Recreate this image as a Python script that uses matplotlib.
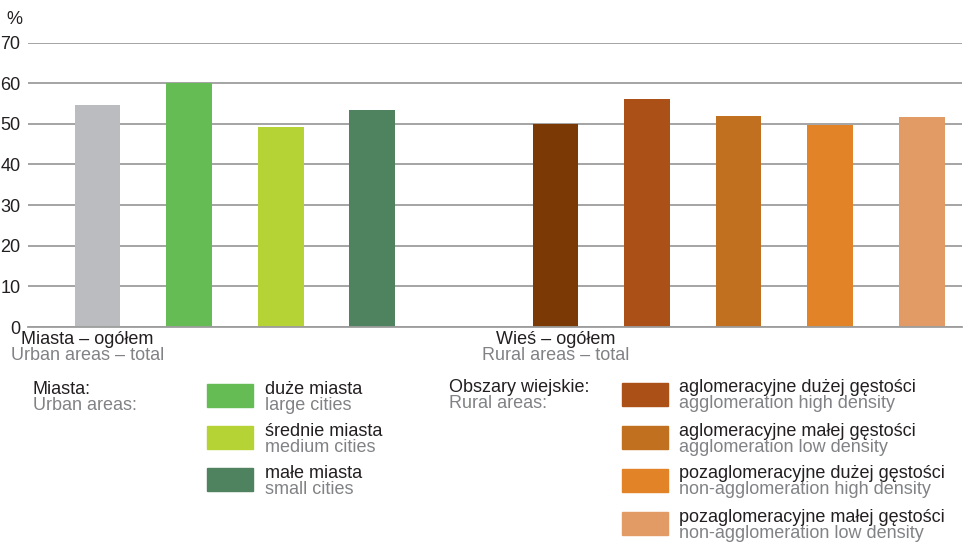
import matplotlib.pyplot as plt
from matplotlib.patches import Rectangle
from matplotlib.transforms import blended_transform_factory

plt.rcParams['font.family'] = ['Liberation Sans', 'DejaVu Sans']

# bar data (percent)
positions = [0, 1, 2, 3, 5, 6, 7, 8, 9]
values = [54.7, 60.0, 49.1, 53.3, 49.9, 56.0, 51.8, 49.6, 51.6]
colors = ['#bbbcbf', '#65bc55', '#b5d334', '#4f825e',
          '#7b3a05', '#ab5118', '#c0701e', '#e28327', '#e29b65']

yticks = [0, 10, 20, 30, 40, 50, 60, 70]

# category labels under the axis
group_pos = [0, 5]
group_pl = ['Miasta – ogółem', 'Wieś – ogółem']
group_en = ['Urban areas – total', 'Rural areas – total']

# legend entries
urban_pl = ['duże miasta', 'średnie miasta', 'małe miasta']
urban_en = ['large cities', 'medium cities', 'small cities']
urban_colors = colors[1:4]
rural_pl = ['aglomeracyjne dużej gęstości', 'aglomeracyjne małej gęstości',
            'pozaglomeracyjne dużej gęstości', 'pozaglomeracyjne małej gęstości']
rural_en = ['agglomeration high density', 'agglomeration low density',
            'non-agglomeration high density', 'non-agglomeration low density']
rural_colors = colors[5:9]

BLACK = '#231f20'
GREY = '#808285'
FS = 13
W, H = 968, 542

def fx(px):
    return px / W

def fy(py):
    return 1 - py / H

fig = plt.figure(figsize=(9.68, 5.42), dpi=100)
ax = fig.add_axes([fx(28), fy(327), fx(962) - fx(28), fy(42.5) - fy(327)])

ax.bar(positions, values, width=0.5, color=colors, zorder=3)
ax.set_xlim(-0.76, 9.44)
ax.set_ylim(0, 70)
ax.set_yticks(yticks)
ax.set_xticks([])
ax.tick_params(axis='y', length=0, pad=5.5, labelsize=13, labelcolor=BLACK)
ax.yaxis.grid(True, color='#9d9d9d', linewidth=1.3, zorder=0)
for s in ['top', 'right', 'left']:
    ax.spines[s].set_visible(False)
ax.spines['bottom'].set_color('#9d9d9d')
ax.spines['bottom'].set_linewidth(1.3)
ax.spines['bottom'].set_zorder(4)

fig.text(fx(6), fy(20), '%', fontsize=13, color=BLACK, va='center')

# group labels
trans = blended_transform_factory(ax.transData, fig.transFigure)
offsets = [-0.11, 0]
for gp, pl, en, off in zip(group_pos, group_pl, group_en, offsets):
    ax.text(gp + off, fy(340), pl, transform=trans, ha='center', va='center',
            fontsize=FS, color=BLACK)
    ax.text(gp + off, fy(356), en, transform=trans, ha='center', va='center',
            fontsize=FS, color=GREY)

# legend: urban
fig.text(fx(33), fy(389), 'Miasta:', fontsize=FS, color=BLACK, va='center')
fig.text(fx(33), fy(405), 'Urban areas:', fontsize=FS, color=GREY, va='center')
for i, (pl, en, c) in enumerate(zip(urban_pl, urban_en, urban_colors)):
    top = 384 + i * 42
    fig.patches.append(Rectangle((fx(207), fy(top + 23)), fx(46), 23 / H,
                                 transform=fig.transFigure, color=c))
    fig.text(fx(265), fy(top + 6), pl, fontsize=FS, color=BLACK, va='center')
    fig.text(fx(265), fy(top + 22), en, fontsize=FS, color=GREY, va='center')

# legend: rural
fig.text(fx(449), fy(388), 'Obszary wiejskie:', fontsize=FS, color=BLACK, va='center')
fig.text(fx(449), fy(404), 'Rural areas:', fontsize=FS, color=GREY, va='center')
for i, (pl, en, c) in enumerate(zip(rural_pl, rural_en, rural_colors)):
    top = 383 + i * 43
    fig.patches.append(Rectangle((fx(622), fy(top + 23)), fx(46), 23 / H,
                                 transform=fig.transFigure, color=c))
    fig.text(fx(679), fy(top + 5), pl, fontsize=FS, color=BLACK, va='center')
    fig.text(fx(679), fy(top + 21), en, fontsize=FS, color=GREY, va='center')

fig.savefig('out.png', dpi=100)
